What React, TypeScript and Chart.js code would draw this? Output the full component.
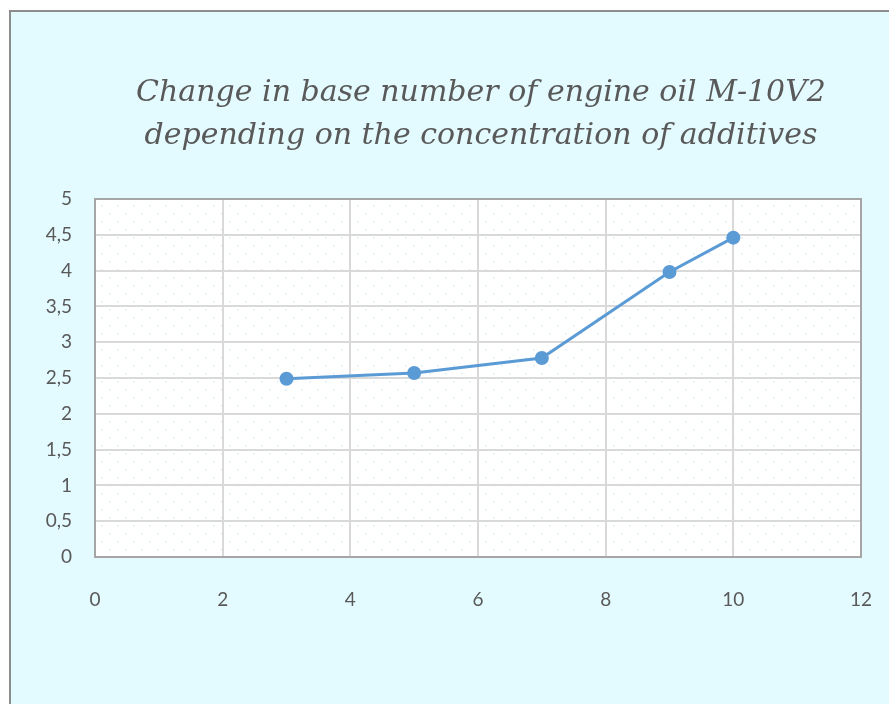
import React, { useEffect, useRef } from "react";
import { Chart, registerables } from "chart.js";

Chart.register(...registerables);

const titleLines = [
  "Change in base number of engine oil M-10V2",
  "depending on the concentration of additives",
];
const concentration = [3, 5, 7, 9, 10];
const baseNumber = [2.49, 2.57, 2.78, 3.98, 4.46];
const xTicks = [0, 2, 4, 6, 8, 10, 12];
const yTicks = [0, 0.5, 1, 1.5, 2, 2.5, 3, 3.5, 4, 4.5, 5];

const plotDecor = {
  id: "plotDecor",
  beforeDraw(chart: any) {
    const { ctx, chartArea: a } = chart;
    ctx.save();
    ctx.fillStyle = "#ffffff";
    ctx.fillRect(a.left, a.top, a.right - a.left, a.bottom - a.top);
    ctx.fillStyle = "#d6eef6";
    let row = 0;
    for (let y = a.top + 6; y < a.bottom; y += 8) {
      const off = row % 2 === 0 ? 0 : 8;
      for (let x = a.left + 6 + off; x < a.right; x += 16) {
        ctx.fillRect(Math.round(x), Math.round(y), 1.5, 1.5);
      }
      row++;
    }
    // title
    ctx.fillStyle = "#595959";
    ctx.font = "italic 30px 'DejaVu Serif', serif";
    ctx.textAlign = "center";
    ctx.textBaseline = "middle";
    const cx = 481;
    ctx.fillText(titleLines[0], cx, 93);
    ctx.fillText(titleLines[1], cx, 136);
    ctx.restore();
  },
  beforeDatasetsDraw(chart: any) {
    const { ctx, chartArea: a } = chart;
    ctx.save();
    ctx.strokeStyle = "#a6a6a6";
    ctx.lineWidth = 2;
    ctx.strokeRect(a.left, a.top, a.right - a.left, a.bottom - a.top);
    ctx.restore();
  },
};

export default function App() {
  const ref = useRef<HTMLCanvasElement>(null);
  useEffect(() => {
    if (!ref.current) return;
    const chart = new Chart(ref.current, {
      type: "scatter",
      data: {
        datasets: [
          {
            data: concentration.map((x, i) => ({ x, y: baseNumber[i] })),
            showLine: true,
            borderColor: "#5b9bd5",
            backgroundColor: "#5b9bd5",
            borderWidth: 3,
            pointRadius: 7,
            pointHoverRadius: 7,
            pointBorderWidth: 0,
          },
        ],
      },
      plugins: [plotDecor],
      options: {
        animation: false,
        responsive: false,
        maintainAspectRatio: false,
        layout: { padding: { left: 0, right: 28, top: 199, bottom: 0 } },
        plugins: {
          legend: { display: false },
          tooltip: { enabled: false },
          title: { display: false },
        },
        scales: {
          x: {
            type: "linear",
            min: 0,
            max: 12,
            afterBuildTicks: (s: any) => {
              s.ticks = xTicks.map((v) => ({ value: v }));
            },
            afterFit: (s: any) => {
              s.height = 147;
              s.paddingLeft = 0;
              s.paddingRight = 0;
            },
            ticks: {
              color: "#595959",
              font: { family: "Lato, sans-serif", size: 19 },
              padding: 31,
            },
            grid: { color: "#d9d9d9", lineWidth: 2, drawTicks: false },
            border: { display: false },
          },
          y: {
            type: "linear",
            min: 0,
            max: 5,
            afterBuildTicks: (s: any) => {
              s.ticks = yTicks.map((v) => ({ value: v }));
            },
            afterFit: (s: any) => {
              s.width = 95;
              s.paddingTop = 0;
              s.paddingBottom = 0;
            },
            ticks: {
              color: "#595959",
              font: { family: "Lato, sans-serif", size: 19 },
              padding: 23,
              callback: (v: any) => String(v).replace(".", ","),
            },
            grid: { color: "#d9d9d9", lineWidth: 2, drawTicks: false },
            border: { display: false },
          },
        },
      },
    });
    return () => chart.destroy();
  }, []);

  return (
    <div
      style={{
        position: "fixed",
        left: 0,
        top: 0,
        width: 889,
        height: 704,
        background: "#ffffff",
        overflow: "hidden",
      }}
    >
      <div
        style={{
          position: "absolute",
          left: 9,
          top: 10,
          width: 900,
          height: 720,
          background: "#e3faff",
          border: "2px solid #8c8c8c",
        }}
      />
      <canvas
        ref={ref}
        width={889}
        height={704}
        style={{ position: "absolute", left: 0, top: 0, width: 889, height: 704 }}
      />
    </div>
  );
}
